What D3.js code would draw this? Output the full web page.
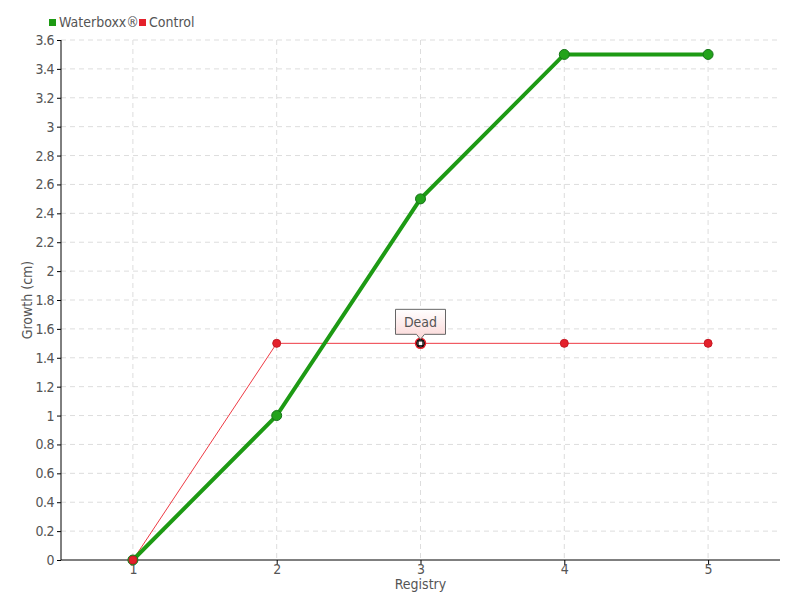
<!DOCTYPE html>
<meta charset="utf-8">
<style>
body { margin: 0; background: #fff; }
text { font-family: 'DejaVu Sans', sans-serif; font-stretch: condensed; fill: #555; }
.grid line { stroke: #ddd; stroke-dasharray: 5,4; }
.axis path, .axis line { stroke: #000; }
</style>
<body>
<div class="viz"></div>
<script src="https://d3js.org/d3.v7.min.js"></script>
<script>
// chart values
const registry = [1, 2, 3, 4, 5];
const waterboxx = [0, 1.0, 2.5, 3.5, 3.5];
const control = [0, 1.5, 1.5, 1.5, 1.5];
const yTicks = [0, 0.2, 0.4, 0.6, 0.8, 1, 1.2, 1.4, 1.6, 1.8, 2, 2.2, 2.4, 2.6, 2.8, 3, 3.2, 3.4, 3.6];
const deadIndex = 2;

const margin = {top: 40, right: 20, bottom: 40, left: 61},
  width = 800 - margin.left - margin.right,
  height = 600 - margin.top - margin.bottom;

const svg = d3.select(".viz").append("svg")
  .attr("width", 800).attr("height", 600);

const defs = svg.append("defs");
const grad = defs.append("linearGradient").attr("id", "tipgrad")
  .attr("x1", 0).attr("y1", 0).attr("x2", 0).attr("y2", 1);
grad.append("stop").attr("offset", "0%").attr("stop-color", "#fff");
grad.append("stop").attr("offset", "100%").attr("stop-color", "#fbd6d6");

const g = svg.append("g")
  .attr("transform", "translate(" + margin.left + "," + margin.top + ")");

const x = d3.scalePoint().domain(registry).range([0, width]).padding(0.5);
const y = d3.scaleLinear().domain([0, 3.6]).range([height, 0]);

// grid
g.append("g").attr("class", "grid")
  .selectAll("line").data(yTicks.slice(1)).enter().append("line")
  .attr("x1", 0).attr("x2", width)
  .attr("y1", d => y(d)).attr("y2", d => y(d));
g.append("g").attr("class", "grid")
  .selectAll("line").data(registry).enter().append("line")
  .attr("x1", d => x(d)).attr("x2", d => x(d))
  .attr("y1", 0).attr("y2", height);

// axes
const yAxis = g.append("g").attr("class", "axis")
  .call(d3.axisLeft(y).tickValues(yTicks).tickSize(4).tickSizeOuter(0).tickFormat(d3.format("")));
yAxis.selectAll("text").style("font-size", "14px").style("fill", "#555").style("letter-spacing", "-0.5px");
yAxis.select(".domain").attr("d", "M0," + height + "V0");

const xAxis = g.append("g").attr("class", "axis")
  .attr("transform", "translate(0," + height + ")")
  .call(d3.axisBottom(x).tickSize(5).tickSizeOuter(0));
xAxis.selectAll("text").style("font-size", "14px").style("fill", "#555").attr("dy", "0.4em");
xAxis.select(".domain").attr("d", "M0,0H" + width);

g.append("text")
  .attr("x", x(3)).attr("y", height + 29)
  .style("text-anchor", "middle").style("font-size", "14px")
  .text("Registry");

g.append("text")
  .attr("transform", "translate(-29," + (height / 2) + ") rotate(-90)")
  .style("text-anchor", "middle").style("font-size", "14px")
  .text("Growth (cm)");

const line = d3.line().x((d, i) => x(registry[i])).y(d => y(d));

// control series
g.append("path").datum(control)
  .attr("d", line).attr("fill", "none")
  .attr("stroke", "#ee3a44").attr("stroke-width", 1);

// waterboxx series
g.append("path").datum(waterboxx)
  .attr("d", line).attr("fill", "none")
  .attr("stroke", "#1d9a14").attr("stroke-width", 4);

g.selectAll(".wdot").data(waterboxx).enter().append("circle")
  .attr("class", "wdot")
  .attr("cx", (d, i) => x(registry[i])).attr("cy", d => y(d))
  .attr("r", 5).attr("fill", "#23a31b").attr("stroke", "#17741a").attr("stroke-width", 1);

g.selectAll(".cdot").data(control).enter().append("circle")
  .attr("class", "cdot")
  .attr("cx", (d, i) => x(registry[i])).attr("cy", d => y(d))
  .attr("r", 4)
  .attr("fill", (d, i) => i === deadIndex ? "#fff" : "#e4202b")
  .attr("stroke", (d, i) => i === deadIndex ? "#000" : "#c51a24")
  .attr("stroke-width", (d, i) => i === deadIndex ? 1.5 : 1);
// red halo around the dead point
g.append("circle")
  .attr("cx", x(registry[deadIndex])).attr("cy", y(control[deadIndex]))
  .attr("r", 5).attr("fill", "none").attr("stroke", "#e4202b").attr("stroke-width", 1.5);
g.append("rect")
  .attr("x", x(registry[deadIndex]) - 2.5).attr("y", y(control[deadIndex]) - 2.5)
  .attr("width", 5).attr("height", 5).attr("fill", "#fff").attr("stroke", "#000").attr("stroke-width", 1.3);

// the "Dead" annotation
const px = x(registry[deadIndex]), py = y(control[deadIndex]);
const tip = g.append("g").attr("transform", "translate(" + px + "," + py + ")");
tip.append("path")
  .attr("d", "M-25,-34H25V-9H4L0,-4L-4,-9H-25Z")
  .attr("fill", "url(#tipgrad)").attr("stroke", "#666").attr("stroke-width", 1);
tip.append("text")
  .attr("x", 0).attr("y", -16)
  .style("text-anchor", "middle").style("font-size", "14px")
  .text("Dead");

// legend
const legend = svg.append("g").attr("transform", "translate(49,22)");
legend.append("rect").attr("x", 0).attr("y", -3).attr("width", 7).attr("height", 7).attr("fill", "#1d9a14");
legend.append("text").attr("x", 10).attr("y", 5).style("font-size", "14px").text("Waterboxx®");
legend.append("rect").attr("x", 90).attr("y", -3).attr("width", 7).attr("height", 7).attr("fill", "#e4202b");
legend.append("text").attr("x", 100).attr("y", 5).style("font-size", "14px").text("Control");
</script>
</body>
